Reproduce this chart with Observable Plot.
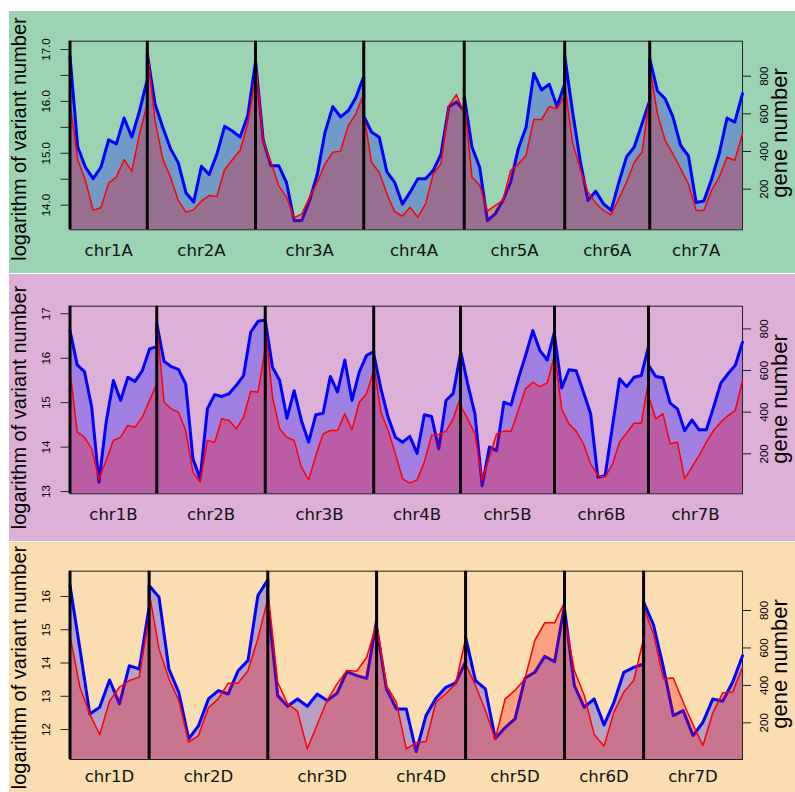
<!DOCTYPE html>
<html><head><meta charset="utf-8">
<script src="https://cdn.jsdelivr.net/npm/d3@7"></script>
<script src="https://cdn.jsdelivr.net/npm/@observablehq/plot@0.6"></script>
<style>
body{margin:0;background:#fff;}
#wrap{position:relative;width:795px;height:792px;overflow:hidden;background:#fff;}
.panel{position:absolute;left:9px;}
</style></head><body><div id="wrap"></div>
<script>
// ---------- DATA ----------
const chromA = ["chr1A","chr2A","chr3A","chr4A","chr5A","chr6A","chr7A"];
const chromB = ["chr1B","chr2B","chr3B","chr4B","chr5B","chr6B","chr7B"];
const chromD = ["chr1D","chr2D","chr3D","chr4D","chr5D","chr6D","chr7D"];

// logarithm of variant number per bin (left axis)
const logVarA = [
  [16.87,15.12,14.73,14.51,14.73,15.26,15.18,15.68,15.31,15.82,16.42],
  [16.92,15.95,15.50,15.09,14.82,14.24,14.06,14.75,14.59,14.98,15.52,15.43,15.31,15.73,16.76],
  [16.79,15.25,14.76,14.76,14.44,13.70,13.71,14.09,14.60,15.41,15.90,15.70,15.82,16.08,16.48],
  [15.72,15.41,15.31,14.64,14.44,14.02,14.25,14.51,14.51,14.67,14.99,15.89,15.99,15.82],
  [16.10,15.12,14.73,13.70,13.83,14.09,14.44,15.09,15.50,16.54,16.22,16.33,15.90,16.34],
  [16.88,15.82,14.86,14.09,14.27,14.03,13.90,14.44,14.93,15.12,15.57,16.02],
  [16.82,16.20,16.05,15.70,15.15,14.95,14.05,14.08,14.50,15.00,15.68,15.60,16.15]
];
// gene number per bin (right axis)
const geneA = [
  [653,356,246,87,101,232,264,356,296,494,653],
  [936,565,361,264,140,78,90,136,166,161,303,356,405,547,795],
  [883,458,343,219,158,48,69,158,237,334,396,402,538,600,710],
  [600,343,290,175,80,57,104,51,122,281,334,642,703,600],
  [671,264,219,83,113,140,299,334,379,570,570,639,627,697],
  [759,450,308,184,127,87,64,149,237,343,396,688],
  [848,600,458,388,308,228,87,87,193,264,370,352,494]
];
const logVarB = [
  [16.62,15.85,15.70,14.90,13.21,14.56,15.50,15.05,15.57,15.48,15.72,16.21,16.26],
  [16.78,15.93,15.81,15.75,15.42,13.74,13.29,14.86,15.18,15.14,15.20,15.39,15.61,16.59,16.83,16.86],
  [16.85,15.80,15.50,14.65,15.27,14.60,14.11,14.73,14.76,15.59,15.24,15.96,15.05,15.69,16.06,16.15],
  [16.10,15.31,14.67,14.22,14.11,14.24,13.86,14.73,14.69,13.96,15.05,15.21,16.10],
  [16.17,15.42,14.75,13.13,14.00,13.92,15.01,14.95,15.54,16.06,16.62,16.17,15.96,16.59],
  [16.51,15.33,15.74,15.72,15.24,14.75,13.32,13.36,14.45,15.54,15.36,15.57,15.61,16.26],
  [15.84,15.59,15.56,14.99,14.86,14.37,14.61,14.39,14.39,14.90,15.44,15.65,15.84,16.36]
];
const geneB = [
  [600,304,280,224,80,168,264,280,336,328,376,456,536],
  [832,448,416,400,312,112,64,264,256,368,360,320,376,501,496,704],
  [816,472,320,280,264,136,75,192,296,312,312,392,315,448,488,600],
  [632,400,312,200,80,59,75,160,288,293,309,368,472],
  [432,368,296,75,184,296,309,309,408,512,544,523,541,672],
  [688,416,344,309,248,152,96,88,149,256,301,347,347,552],
  [480,368,392,248,256,80,136,192,256,312,352,384,408,552]
];
const logVarD = [
  [16.33,14.43,12.47,12.67,13.49,12.77,13.92,13.82,15.68],
  [16.33,15.98,13.82,13.12,11.72,12.12,12.92,13.17,13.07,13.77,14.08,16.03,16.50],
  [15.80,13.02,12.70,12.92,12.70,13.07,12.87,13.09,13.74,13.62,13.54,15.28],
  [15.08,13.22,12.62,12.62,11.34,12.42,12.94,13.27,13.40,14.04],
  [14.78,13.47,13.22,11.73,12.06,12.32,13.54,13.72,14.20,14.04,15.73],
  [15.63,13.32,12.67,12.92,12.14,12.82,13.72,13.87,13.97],
  [15.83,15.15,13.87,12.42,12.57,11.82,12.22,12.92,12.85,13.42,14.22]
];
const geneD = [
  [666,390,248,136,316,390,426,444,773],
  [898,595,435,319,97,132,280,328,412,412,479,649,862],
  [907,417,301,262,61,191,319,408,479,476,550,729],
  [729,399,310,61,93,100,310,355,408,649],
  [515,399,266,111,328,373,435,640,734,734,844],
  [764,479,346,138,75,257,364,426,649],
  [818,675,435,439,310,189,79,253,360,364,497]
];

const varTicksA = [14, 14.5, 15, 15.5, 16, 16.5, 17];
const varTicksB = [13, 14, 15, 16, 17];
const varTicksD = [12, 13, 14, 15, 16];
const geneTicks = [200, 400, 600, 800];
const leftTitle = "logarithm of variant number";
const rightTitle = "gene number";

// ---------- LAYOUT ----------
const panels = [
  {chrom: chromA, logVar: logVarA, genes: geneA, varTicks: varTicksA,
   varFmt: d => Number.isInteger(d) ? d.toFixed(1) : "",
   varDomain: [13.525, 17.16], geneDomain: [-16, 986],
   top: 11, height: 262, mt: 29.7, mb: 43.7, bg: "#9BD3B3", labelPad: 14, lty: 128, rty: 122},
  {chrom: chromB, logVar: logVarB, genes: geneB, varTicks: varTicksB,
   varFmt: d => String(d),
   varDomain: [12.95, 17.17], geneDomain: [8, 909],
   top: 274, height: 267, mt: 31.7, mb: 47.7, bg: "#DDB0D8", labelPad: 14, lty: 133.5, rty: 125},
  {chrom: chromD, logVar: logVarD, genes: geneD, varTicks: varTicksD,
   varFmt: d => String(d),
   varDomain: [11.10, 16.76], geneDomain: [4, 1010],
   top: 542, height: 250, mt: 28.7, mb: 33, bg: "#FADDB0", labelPad: 11, lty: 125.5, rty: 122}
];

function makePanel(cfg) {
  const [L0, L1] = cfg.varDomain, [G0, G1] = cfg.geneDomain;
  const toVar = g => L0 + (g - G0) * (L1 - L0) / (G1 - G0);
  const rows = [], starts = [], centers = [];
  let off = 0;
  cfg.logVar.forEach((vals, k) => {
    starts.push(off);
    vals.forEach((v, j) => rows.push({x: off + j, v, gv: toVar(cfg.genes[k][j])}));
    centers.push(off + (vals.length - 1) / 2);
    off += vals.length - 1;
  });
  const geneTickPos = geneTicks.map(toVar);
  const svg = Plot.plot({
    width: 786, height: cfg.height,
    marginLeft: 60.5, marginRight: 53, marginTop: cfg.mt, marginBottom: cfg.mb,
    style: {background: cfg.bg, fontFamily: "'Liberation Sans', Arial, sans-serif", fontSize: "11.5px", overflow: "visible", color: "black"},
    x: {domain: [0, off], axis: null},
    y: {domain: [L0, L1], axis: null},
    marks: [
      Plot.frame({stroke: "#222", strokeWidth: 1}),
      Plot.areaY(rows, {x: "x", y1: L0, y2: "v", fill: "#0000ff", fillOpacity: 0.27}),
      Plot.lineY(rows, {x: "x", y: "v", stroke: "#0000ff", strokeWidth: 3}),
      Plot.areaY(rows, {x: "x", y1: L0, y2: "gv", fill: "#ff0000", fillOpacity: 0.27}),
      Plot.lineY(rows, {x: "x", y: "gv", stroke: "#ff0000", strokeWidth: 1.5}),
      Plot.ruleX(starts, {stroke: "black", strokeWidth: 3}),
      Plot.axisY(cfg.varTicks, {anchor: "left", tickSize: 9, tickPadding: 11, tickRotate: -90,
        textAnchor: "middle", lineAnchor: "bottom", tickFormat: cfg.varFmt, label: null, stroke: "#222"}),
      Plot.axisY(geneTickPos, {anchor: "right", tickSize: 8, tickPadding: 9, tickRotate: -90,
        textAnchor: "middle", lineAnchor: "top", label: null, stroke: "#222",
        tickFormat: d => String(geneTicks[geneTickPos.indexOf(d)])}),
      Plot.axisX(centers, {anchor: "bottom", tickSize: 0, tickPadding: cfg.labelPad,
        fontSize: 16.5, fontFamily: "DejaVu Sans", fill: "#111", label: null,
        tickFormat: d => cfg.chrom[centers.indexOf(d)]})
    ]
  });
  const s = d3.select(svg);
  s.append("text").attr("transform", `translate(17,${cfg.lty}) rotate(-90)`)
    .attr("text-anchor", "middle").attr("font-size", 20)
    .attr("font-family", "'Liberation Sans', Arial, sans-serif").attr("fill", "black").text(leftTitle);
  s.append("text").attr("transform", `translate(778,${cfg.rty}) rotate(-90)`)
    .attr("text-anchor", "middle").attr("font-size", 22)
    .attr("font-family", "'Liberation Sans', Arial, sans-serif").attr("fill", "black").text(rightTitle);
  const div = document.createElement("div");
  div.className = "panel";
  div.style.top = cfg.top + "px";
  div.appendChild(svg);
  return div;
}

const wrap = document.getElementById("wrap");
panels.forEach(p => wrap.appendChild(makePanel(p)));
</script>
</body></html>
